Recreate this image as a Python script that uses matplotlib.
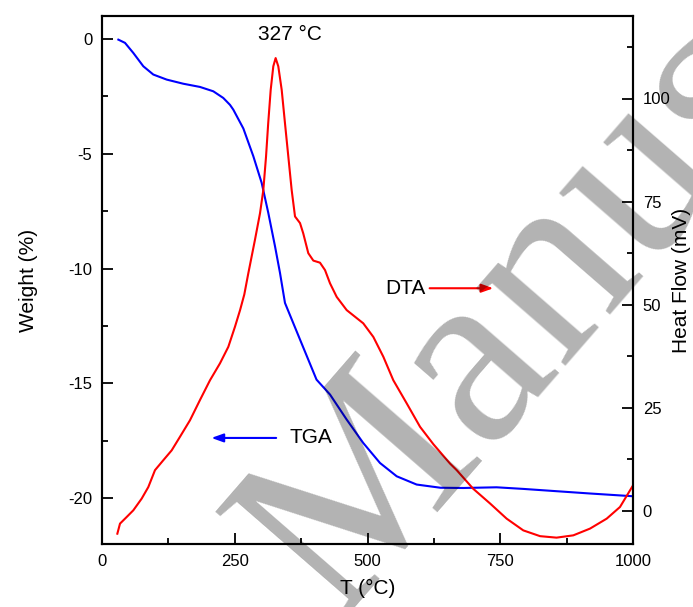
import matplotlib
matplotlib.use("Agg")
import matplotlib.pyplot as plt
from matplotlib.ticker import MultipleLocator
from matplotlib import font_manager
from matplotlib.font_manager import FontProperties

plt.rcParams['font.family'] = ['Liberation Sans', 'DejaVu Sans']
plt.rcParams['axes.unicode_minus'] = False

# TGA (weight %) vs temperature (°C)
tga_T = [30.8, 43.3, 59, 77.8, 96.6, 121.8, 153, 184.5, 209.6, 228.4, 241,
         247.3, 266.2, 285, 300.7, 313.2, 325.8, 335.2, 344.6, 373, 404,
         429.4, 460.8, 492, 523.5, 555, 592.5, 637.5, 680.4, 743, 793.4,
         856, 919, 1000]
tga_w = [-0.03, -0.17, -0.61, -1.19, -1.55, -1.77, -1.95, -2.09, -2.28,
         -2.57, -2.87, -3.08, -3.9, -5.11, -6.27, -7.58, -9.03, -10.19,
         -11.5, -13.1, -14.84, -15.49, -16.58, -17.6, -18.47, -19.05,
         -19.41, -19.55, -19.56, -19.53, -19.6, -19.7, -19.8, -19.92]

# DTA (heat flow, mV) vs temperature (°C)
dta_T = [28.9, 33.9, 46.5, 59, 74.7, 87.2, 99.8, 115.4, 131.2, 146.9, 165.7,
         184.5, 203.4, 222.2, 237.9, 250.5, 260, 268, 275.5, 288, 297.6,
         303.8, 308.9, 313, 317.7, 322.6, 327, 332, 338.4, 344.6, 350.9,
         357.2, 363.5, 372.9, 379, 388.5, 398, 410.5, 420, 429.4, 442,
         460.8, 492, 511, 529.8, 548.6, 573.8, 599, 624, 655.4, 668, 699,
         731, 762, 793.4, 825, 856, 887.6, 919, 950.5, 975.5, 1000]
dta_h = [-5.5, -3.06, -1.45, 0.17, 3.0, 5.8, 9.9, 12.3, 14.7, 18.0, 22.0,
         26.9, 31.7, 35.8, 39.8, 44.7, 48.7, 52.5, 57.6, 65.7, 72.2,
         77.8, 85.9, 94.0, 102.1, 107.8, 109.8, 107.8, 102.1, 94.0, 85.9,
         77.8, 71.4, 69.8, 67.3, 62.5, 60.7, 60.2, 58.4, 55.2, 51.9,
         48.7, 45.5, 42.2, 37.4, 31.7, 26.1, 20.4, 16.2, 11.5, 9.9, 5.4,
         1.8, -1.85, -4.7, -6.1, -6.46, -5.9, -4.27, -1.85, 0.97, 6.2]

x_ticks = [0, 250, 500, 750, 1000]
left_ticks = [0, -5, -10, -15, -20]
right_ticks = [0, 25, 50, 75, 100]


def serif_font():
    entries = font_manager.fontManager.ttflist
    for want in ['Liberation Serif', 'Times New Roman', 'Nimbus Roman',
                 'DejaVu Serif', 'Noto Serif']:
        for f in entries:
            if f.name == want and f.style == 'normal' and f.weight in (400, 'normal', 'regular'):
                return FontProperties(fname=f.fname)
    return FontProperties(family=['Liberation Sans', 'DejaVu Sans'])


fig = plt.figure(figsize=(6.93, 6.07), dpi=100)
ax = fig.add_axes([102/693, 1-544/607, (633-102)/693, (544-16)/607])
ax2 = ax.twinx()

ax.plot(tga_T, tga_w, color='#0000ff', lw=1.5)
ax2.plot(dta_T, dta_h, color='#ff0000', lw=1.5)

ax.set_xlim(0, 1000)
ax.set_ylim(-22, 1)
ax2.set_ylim(-8, 120)
ax.set_xticks(x_ticks)
ax.set_yticks(left_ticks)
ax2.set_yticks(right_ticks)
ax.xaxis.set_minor_locator(MultipleLocator(125))
ax.yaxis.set_minor_locator(MultipleLocator(2.5))
ax2.yaxis.set_minor_locator(MultipleLocator(12.5))

for a in (ax, ax2):
    for s in a.spines.values():
        s.set_linewidth(1.5)
ax.tick_params(which='both', direction='in', width=1.3, labelsize=12, top=False, right=False)
ax.tick_params(which='major', length=8, pad=7)
ax.tick_params(which='minor', length=4.5)
ax2.tick_params(which='both', direction='in', width=1.3, labelsize=12)
ax2.tick_params(which='major', length=8, pad=7)
ax2.tick_params(which='minor', length=4.5)

ax.set_xlabel('T (°C)', fontsize=15, labelpad=7)
ax.set_ylabel('Weight (%)', fontsize=15, labelpad=22)
ax2.set_ylabel('Heat Flow (mV)', fontsize=15, labelpad=1)

ax.text(354, 0.19, '327 °C', fontsize=15, ha='center', va='center')
ax2.annotate('', xy=(737, 54.0), xytext=(617, 54.0),
             arrowprops=dict(arrowstyle='-|>,head_length=0.7,head_width=0.25',
                             color='#ff0000', lw=1.5, shrinkA=0, shrinkB=0))
ax2.text(610, 54.0, 'DTA', fontsize=15, ha='right', va='center')
ax.annotate('', xy=(206, -17.38), xytext=(328, -17.38),
            arrowprops=dict(arrowstyle='-|>,head_length=0.7,head_width=0.25',
                            color='#0000ff', lw=1.5, shrinkA=0, shrinkB=0))
ax.text(354, -17.38, 'TGA', fontsize=15, ha='left', va='center')

wm = serif_font()
wm.set_size(185)
fig.text(335/693, 1-622/607, 'Manuscript', fontproperties=wm,
         rotation=49, rotation_mode='anchor', ha='left', va='baseline',
         color='black', alpha=0.3, zorder=10)

fig.savefig('out.png', dpi=100)
